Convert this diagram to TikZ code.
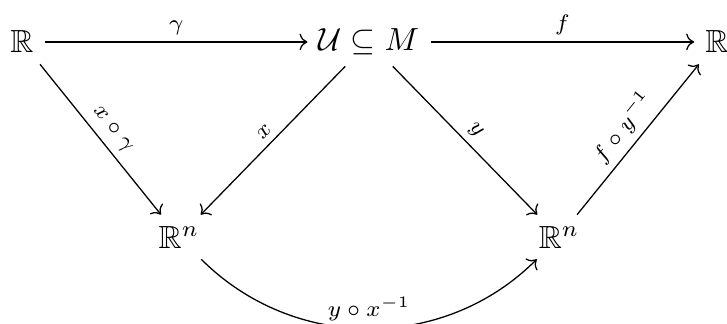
\documentclass[tikz,border=0pt]{standalone}
\usepackage{amsmath}
\usepackage{amssymb}
\usetikzlibrary{arrows.meta}

\begin{document}
\begin{tikzpicture}[
    space/.style={inner sep=0.3333em},
    map/.style={->, line width=0.4pt},
    lbl/.style={font=\scriptsize, inner sep=0.5ex, midway}
]
    \useasboundingbox (0,0) rectangle (7.985,-3.548);

    % Top row
    \node[space] (R1) at (0.242,-0.461) {$\mathbb{R}$};
    \node[space] (UM) at (4.053,-0.461) {$\mathcal{U} \subseteq M$};
    \node[space] (R2) at (7.875,-0.461) {$\mathbb{R}$};

    % Chart images
    \node[space] (Rn1) at (1.966,-2.603) {$\mathbb{R}^n$};
    \node[space] (Rn2) at (6.140,-2.603) {$\mathbb{R}^n$};

    % Maps
    \draw[map] (R1) -- node[lbl, above] {$\gamma$} (UM);
    \draw[map] (UM) -- node[lbl, above] {$f$} (R2);

    \draw[map] (R1) -- node[lbl, above, sloped] {$x \circ \gamma$} (Rn1);
    \draw[map] (UM) -- node[lbl, above, sloped] {$x$} (Rn1);
    \draw[map] (UM) -- node[lbl, above, sloped] {$y$} (Rn2);
    \draw[map] (Rn2) -- node[lbl, above, sloped] {$f \circ y^{-1}$} (R2);

    % Transition map
    \draw[map] (Rn1) to[bend right=45] node[lbl, above] {$y \circ x^{-1}$} (Rn2);
\end{tikzpicture}
\end{document}
